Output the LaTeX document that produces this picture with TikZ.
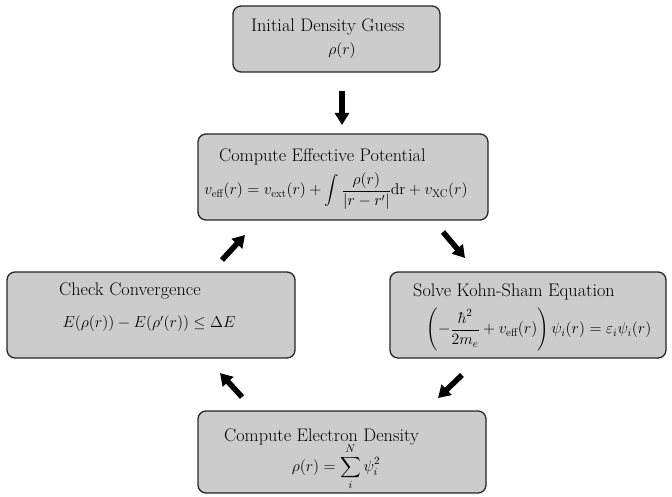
\RequirePackage{fix-cm}
\documentclass[tikz,border=0pt]{standalone}
\usepackage{amsmath}
\usetikzlibrary{arrows.meta}
\begin{document}
\begin{tikzpicture}[x=1pt,y=-1pt,
  box/.style={draw=black!85,line width=1.3pt,fill=black!20,rounded corners=8pt,inner sep=0pt},
  ttl/.style={anchor=west,inner sep=0pt,font=\fontsize{18.2}{21}\selectfont},
  fml/.style={inner sep=0pt,font=\fontsize{15.8}{18}\selectfont},
  flow/.style={line width=5.5pt,-{Triangle[length=12pt,width=14pt]}}]
\useasboundingbox (0,0) rectangle (672,497);
% boxes
\node[box,minimum width=207pt,minimum height=66pt] (b1) at (336.5,39) {};
\node[box,minimum width=290pt,minimum height=86pt] (b2) at (343,177) {};
\node[box,minimum width=288pt,minimum height=86pt] (b3) at (151,315) {};
\node[box,minimum width=276pt,minimum height=86pt] (b4) at (528,315) {};
\node[box,minimum width=288pt,minimum height=82pt] (b5) at (342,452) {};
% texts
\node[ttl] (t1) at (251,27) {Initial Density Guess};
\node[fml] (f1) at (342,51) {$\rho(r)$};
\node[ttl] (t2) at (219,157) {Compute Effective Potential};
\node[fml] (f2) at (336,191) {$v_{\text{eff}}(r)=v_{\text{ext}}(r)+\displaystyle\int\frac{\rho(r)}{|r-r'|}\mathrm{dr}+v_{\text{XC}}(r)$};
\node[ttl] (t3) at (59,291) {Check Convergence};
\node[fml] (f3) at (149,324) {$E(\rho(r))-E(\rho'(r))\leq\Delta E$};
\node[ttl] (t4) at (413,292) {Solve Kohn-Sham Equation};
\node[fml] (f4) at (539,330) {$\displaystyle\left(-\frac{\hbar^2}{2m_e}+v_{\text{eff}}(r)\right)\psi_i(r)=\varepsilon_i\psi_i(r)$};
\node[ttl] (t5) at (224,437) {Compute Electron Density};
\node[fml] (f5) at (336,467) {$\displaystyle\rho(r)=\sum_i^N\psi_i^2$};
% arrow end points
\coordinate (a1s) at (342,91);  \coordinate (a1e) at (342,125);
\coordinate (a2s) at (443,232); \coordinate (a2e) at (465,258);
\coordinate (a3s) at (462,375); \coordinate (a3e) at (438,398);
\coordinate (a4s) at (242,397); \coordinate (a4e) at (220,373);
\coordinate (a5s) at (222,260); \coordinate (a5e) at (245,235);
\draw[flow] (a1s) -- (a1e);
\draw[flow] (a2s) -- (a2e);
\draw[flow] (a3s) -- (a3e);
\draw[flow] (a4s) -- (a4e);
\draw[flow] (a5s) -- (a5e);
\end{tikzpicture}
\end{document}
